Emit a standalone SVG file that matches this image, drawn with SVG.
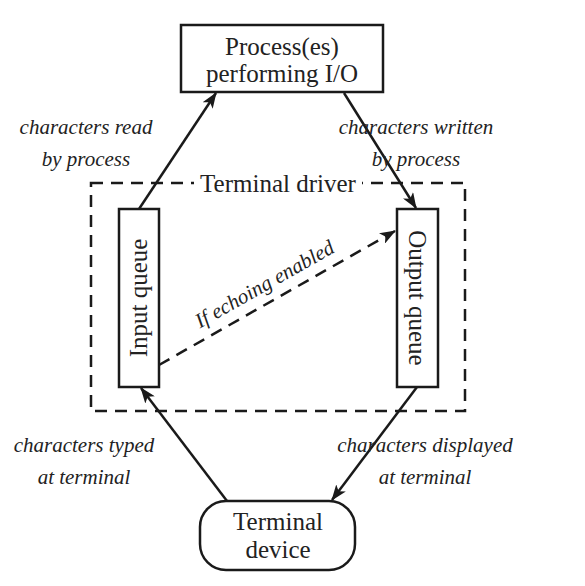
<svg xmlns="http://www.w3.org/2000/svg" width="585" height="586" viewBox="0 0 585 586">
<defs>
<marker id="ah" markerWidth="16" markerHeight="12" refX="15" refY="6" orient="auto" markerUnits="userSpaceOnUse">
<path d="M0,0 L16,6 L0,12 L4,6 Z" fill="#1a1a1a"/>
</marker>
</defs>
<style>
.box{fill:#fff;stroke:#1a1a1a;stroke-width:2.5}
.t{font-family:"Liberation Serif",serif;font-size:25px;fill:#222;text-anchor:middle}
.i{font-family:"Liberation Serif",serif;font-style:italic;font-size:21px;fill:#222;text-anchor:middle}
.c{stroke:#1a1a1a;stroke-width:2.5;fill:none}
.d{stroke-dasharray:12,8}
</style>
<rect width="585" height="586" fill="#fff"/>
<g id="driver">
<rect x="91" y="183" width="374" height="228" fill="none" stroke="#1a1a1a" stroke-width="2.5" stroke-dasharray="12,8"/>
<rect x="194" y="172" width="168" height="24" fill="#fff"/>
<text class="t" x="278" y="192">Terminal driver</text>
</g>
<g id="connectors">
<line class="c" x1="139" y1="209" x2="216" y2="93" marker-end="url(#ah)"/>
<line class="c" x1="344" y1="93" x2="416" y2="208" marker-end="url(#ah)"/>
<line class="c" x1="417" y1="387" x2="332" y2="500" marker-end="url(#ah)"/>
<line class="c" x1="227" y1="501" x2="141" y2="388" marker-end="url(#ah)"/>
<line class="c d" x1="159" y1="365" x2="395" y2="231" marker-end="url(#ah)"/>
<text class="i" transform="translate(268,290) rotate(-29.5)">If echoing enabled</text>
<text class="i" x="86" y="134">characters read</text>
<text class="i" x="86" y="166">by process</text>
<text class="i" x="416" y="134">characters written</text>
<text class="i" x="416" y="166">by process</text>
<text class="i" x="84" y="452">characters typed</text>
<text class="i" x="84" y="484">at terminal</text>
<text class="i" x="425" y="452">characters displayed</text>
<text class="i" x="425" y="484">at terminal</text>
</g>
<g id="process">
<rect class="box" x="181" y="25" width="202" height="67"/>
<text class="t" x="282" y="55">Process(es)</text>
<text class="t" x="282" y="82">performing I/O</text>
</g>
<g id="input-queue">
<rect class="box" x="119" y="209" width="40" height="178"/>
<text class="t" transform="translate(139,298) rotate(-90)" dy="8">Input queue</text>
</g>
<g id="output-queue">
<rect class="box" x="397" y="209" width="41" height="178"/>
<text class="t" transform="translate(417,298) rotate(90)" dy="8">Output queue</text>
</g>
<g id="terminal-device">
<rect class="box" x="200" y="501" width="155" height="69" rx="26"/>
<text class="t" x="278" y="530">Terminal</text>
<text class="t" x="278" y="558">device</text>
</g>
</svg>
